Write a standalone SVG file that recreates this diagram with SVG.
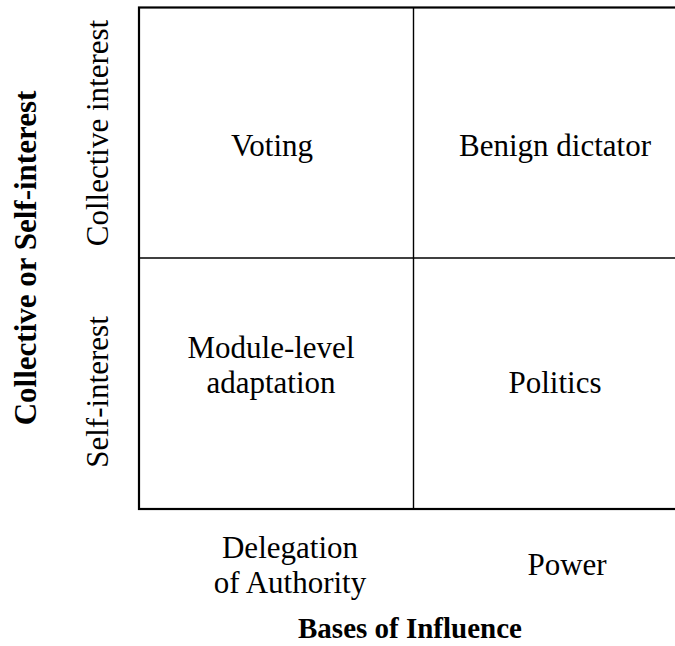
<svg xmlns="http://www.w3.org/2000/svg" width="675" height="646" viewBox="0 0 675 646">
  <style>
    text { font-family: "Liberation Serif", "Times New Roman", serif; font-size: 31px; fill: #000; }
    .b { font-weight: bold; }
    .grid { fill: none; stroke: #000; }
  </style>
  <rect width="675" height="646" fill="#fff"/>

  <!-- matrix frame and dividers -->
  <g id="matrix">
    <rect class="grid" x="139" y="7.5" width="560" height="501.5" stroke-width="2.2"/>
    <line class="grid" x1="413.5" y1="7.5" x2="413.5" y2="509" stroke-width="1.4"/>
    <line class="grid" x1="139" y1="258" x2="675" y2="258" stroke-width="1.4"/>
  </g>

  <!-- quadrants -->
  <g id="cell-voting">
    <text x="272" y="156" text-anchor="middle">Voting</text>
  </g>
  <g id="cell-benign-dictator">
    <text x="555" y="156" text-anchor="middle">Benign dictator</text>
  </g>
  <g id="cell-module-level">
    <text x="271" y="358" text-anchor="middle">Module-level</text>
    <text x="271" y="393" text-anchor="middle">adaptation</text>
  </g>
  <g id="cell-politics">
    <text x="555" y="393" text-anchor="middle">Politics</text>
  </g>

  <!-- vertical axis -->
  <g id="axis-y">
    <text class="b" text-anchor="middle" transform="translate(36 258) rotate(-90)">Collective or Self-interest</text>
    <text text-anchor="middle" transform="translate(108 133) rotate(-90)">Collective interest</text>
    <text text-anchor="middle" transform="translate(108 392) rotate(-90)">Self-interest</text>
  </g>

  <!-- horizontal axis -->
  <g id="axis-x">
    <text x="290" y="558" text-anchor="middle">Delegation</text>
    <text x="290" y="593" text-anchor="middle">of Authority</text>
    <text x="567" y="575" text-anchor="middle">Power</text>
    <text class="b" x="410" y="638" text-anchor="middle" style="font-size:29px">Bases of Influence</text>
  </g>
</svg>
